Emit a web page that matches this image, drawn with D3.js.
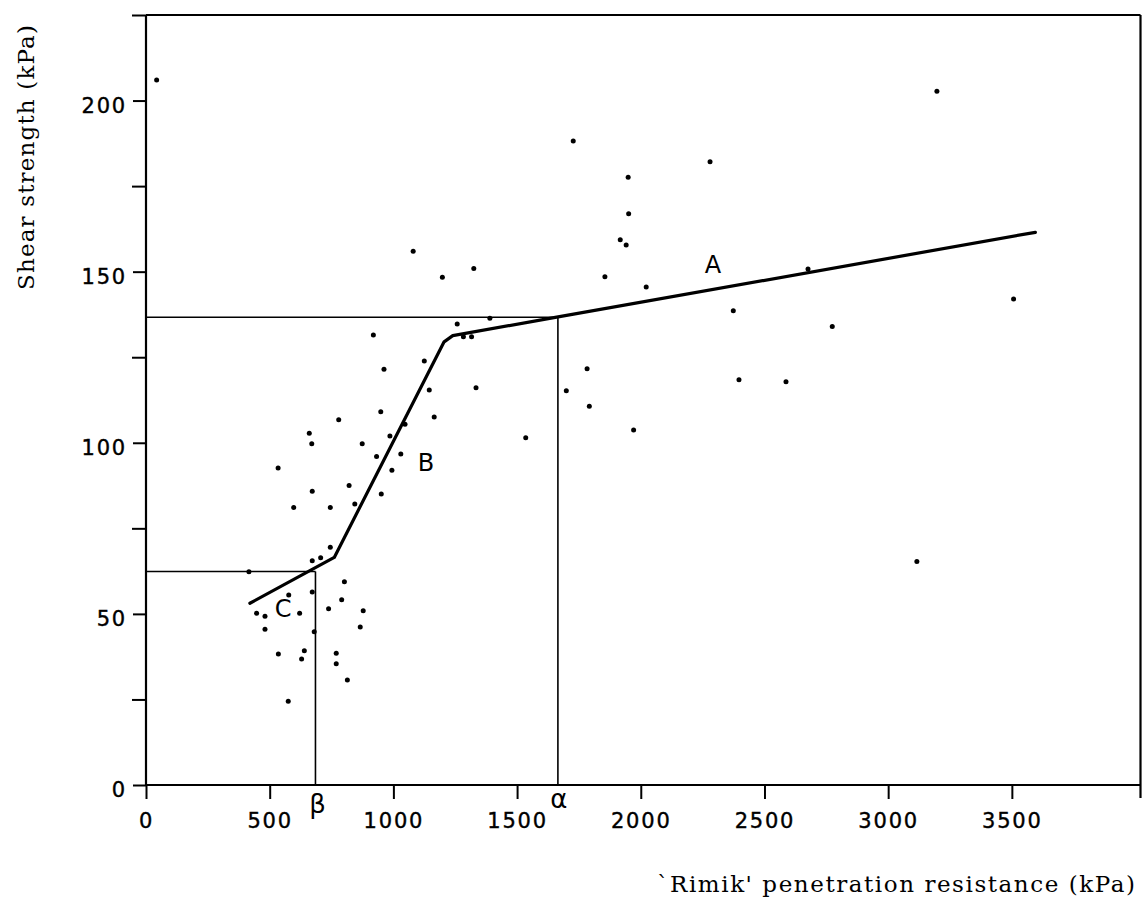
<!DOCTYPE html>
<html>
<head>
<meta charset="utf-8">
<script src="https://cdn.jsdelivr.net/npm/d3@7"></script>
<style>
  html, body { margin: 0; padding: 0; background: #ffffff; }
  svg { display: block; }
</style>
</head>
<body>
<svg id="chart" width="1145" height="913"></svg>
<script>
// ---- data ----
const penetration = [919,1258,1125,962,1334,1145,949,1165,779,1047,660,670,874,986,932,1030,534,994,821,672,951,597,745,844,745,672,706,802,577,672,791,738,878,447,481,621,481,866,680,535,640,629,769,769,814,575,1951,1917,1941,1325,1855,2022,2676,2374,2774,1783,1699,1792,2397,2587,1971,1535,1727,2280,1949,1080,1198,3197,3507,3116,43,1283,1316,1390,416];
const shear = [131.5,134.7,123.9,121.5,116.1,115.4,109.1,107.5,106.7,105.4,102.8,99.7,99.7,102.0,96.0,96.7,92.6,92.0,87.5,85.8,85.0,81.1,81.1,82.1,69.5,65.5,66.4,59.4,55.5,56.4,54.1,51.5,50.9,50.2,49.3,50.2,45.5,46.2,44.8,38.3,39.2,36.8,38.5,35.4,30.7,24.5,166.9,159.3,157.8,150.9,148.5,145.5,150.8,138.6,134.0,121.6,115.2,110.7,118.4,117.8,103.7,101.5,188.2,182.1,177.6,156.0,148.4,202.7,142.0,65.3,206.0,131.0,131.0,136.4,62.3];

const fitX = [420, 761, 1205, 1240, 1660, 3595];
const fitY = [53.1, 66.5, 129.5, 131.3, 136.7, 161.5];

const alphaX = 1665, alphaY = 136.7;
const betaX = 685, betaY = 62.4;

const xTicks = [0, 500, 1000, 1500, 2000, 2500, 3000, 3500];
const yTicksMajor = [0, 50, 100, 150, 200];
const yTicksMinor = [25, 75, 125, 175, 225];

const segLabels = ["A", "B", "C"];
const segLabelX = [2292, 1132, 554];
const segLabelY = [151.9, 94.1, 51.4];

const xTitle = "`Rimik' penetration resistance (kPa)";
const yTitle = "Shear strength (kPa)";

// ---- drawing ----
const svg = d3.select("#chart");
const x = d3.scaleLinear().domain([0, 4020]).range([146, 1140.5]);
const y = d3.scaleLinear().domain([0, 225]).range([785, 15]);

const tickFont = "'DejaVu Sans', sans-serif";

// x axis ticks + labels
const gx = svg.append("g").attr("transform", `translate(0,${y(0)})`)
  .call(d3.axisBottom(x).tickValues(xTicks).tickSize(14).tickPadding(14).tickFormat(d3.format("d")));
gx.select(".domain").remove();
gx.selectAll(".tick line").attr("stroke", "#000").attr("stroke-width", 2);
gx.selectAll(".tick text").attr("fill", "#000").attr("stroke", "#000").attr("stroke-width", 0.4)
  .style("font-family", tickFont).style("font-size", "21px").style("letter-spacing", "1.8px");

// y axis ticks + labels
const gy = svg.append("g").attr("transform", `translate(${x(0)},0)`)
  .call(d3.axisLeft(y).tickValues(yTicksMajor).tickSize(13).tickPadding(6).tickFormat(d3.format("d")));
gy.select(".domain").remove();
gy.selectAll(".tick line").attr("stroke", "#000").attr("stroke-width", 2);
gy.selectAll(".tick text").attr("fill", "#000").attr("stroke", "#000").attr("stroke-width", 0.4)
  .attr("dy", "0.32em").attr("y", 5)
  .style("font-family", tickFont).style("font-size", "21px").style("letter-spacing", "1.8px");

const gyMinor = svg.append("g").attr("transform", `translate(${x(0)},0)`)
  .call(d3.axisLeft(y).tickValues(yTicksMinor).tickSize(14).tickFormat(""));
gyMinor.select(".domain").remove();
gyMinor.selectAll(".tick line").attr("stroke", "#000").attr("stroke-width", 2);

// frame
const frame = svg.append("g").attr("stroke", "#000").attr("stroke-width", 2.2).attr("fill", "none");
frame.append("line").attr("x1", x(0)).attr("x2", x(0)).attr("y1", y(225)).attr("y2", y(0));
frame.append("line").attr("x1", x(0)).attr("x2", x(4020)).attr("y1", y(0)).attr("y2", y(0));
frame.append("line").attr("x1", x(0)).attr("x2", x(4020)).attr("y1", y(225)).attr("y2", y(225));
frame.append("line").attr("x1", x(4020)).attr("x2", x(4020)).attr("y1", y(225)).attr("y2", y(0) + 13);

// reference lines (alpha, beta)
const refs = svg.append("g").attr("stroke", "#000").attr("stroke-width", 1.6).attr("fill", "none");
refs.append("line").attr("x1", x(0)).attr("x2", x(alphaX)).attr("y1", y(alphaY)).attr("y2", y(alphaY));
refs.append("line").attr("x1", x(alphaX)).attr("x2", x(alphaX)).attr("y1", y(alphaY)).attr("y2", y(0));
refs.append("line").attr("x1", x(0)).attr("x2", x(betaX)).attr("y1", y(betaY)).attr("y2", y(betaY));
refs.append("line").attr("x1", x(betaX)).attr("x2", x(betaX)).attr("y1", y(betaY)).attr("y2", y(0));

// fitted segmented line
const fitPts = fitX.map((v, i) => [v, fitY[i]]);
svg.append("path")
  .attr("d", d3.line().x(d => x(d[0])).y(d => y(d[1]))(fitPts))
  .attr("fill", "none").attr("stroke", "#000").attr("stroke-width", 3.2)
  .attr("stroke-linejoin", "round").attr("stroke-linecap", "round");

// points
svg.append("g").selectAll("circle")
  .data(penetration.map((v, i) => [v, shear[i]]))
  .join("circle")
  .attr("cx", d => x(d[0])).attr("cy", d => y(d[1])).attr("r", 2.5).attr("fill", "#000");

// segment labels
svg.append("g").selectAll("text")
  .data(segLabels)
  .join("text")
  .attr("x", (d, i) => x(segLabelX[i])).attr("y", (d, i) => y(segLabelY[i]))
  .attr("text-anchor", "middle").attr("dominant-baseline", "central")
  .style("font-family", "'DejaVu Sans', sans-serif").style("font-size", "24px")
  .attr("fill", "#000")
  .text(d => d);

// alpha / beta markers below axis
svg.append("text").attr("x", x(alphaX) + 1).attr("y", y(0) + 14)
  .attr("text-anchor", "middle").attr("dominant-baseline", "central")
  .style("font-family", "'DejaVu Sans', sans-serif").style("font-size", "26px").attr("fill", "#000").text("α");
svg.append("text").attr("x", x(betaX) + 2).attr("y", y(0) + 19)
  .attr("text-anchor", "middle").attr("dominant-baseline", "central")
  .style("font-family", "'DejaVu Sans', sans-serif").style("font-size", "26px").attr("fill", "#000").text("β");

// axis titles
svg.append("text").attr("x", 657).attr("y", 892)
  .attr("textLength", 478).attr("lengthAdjust", "spacing")
  .style("font-family", "'DejaVu Serif', serif").style("font-size", "23px").attr("fill", "#000")
  .text(xTitle);
svg.append("text").attr("transform", "translate(34,290) rotate(-90)")
  .attr("textLength", 265).attr("lengthAdjust", "spacing")
  .style("font-family", "'DejaVu Serif', serif").style("font-size", "23px").attr("fill", "#000")
  .text(yTitle);
</script>
</body>
</html>
